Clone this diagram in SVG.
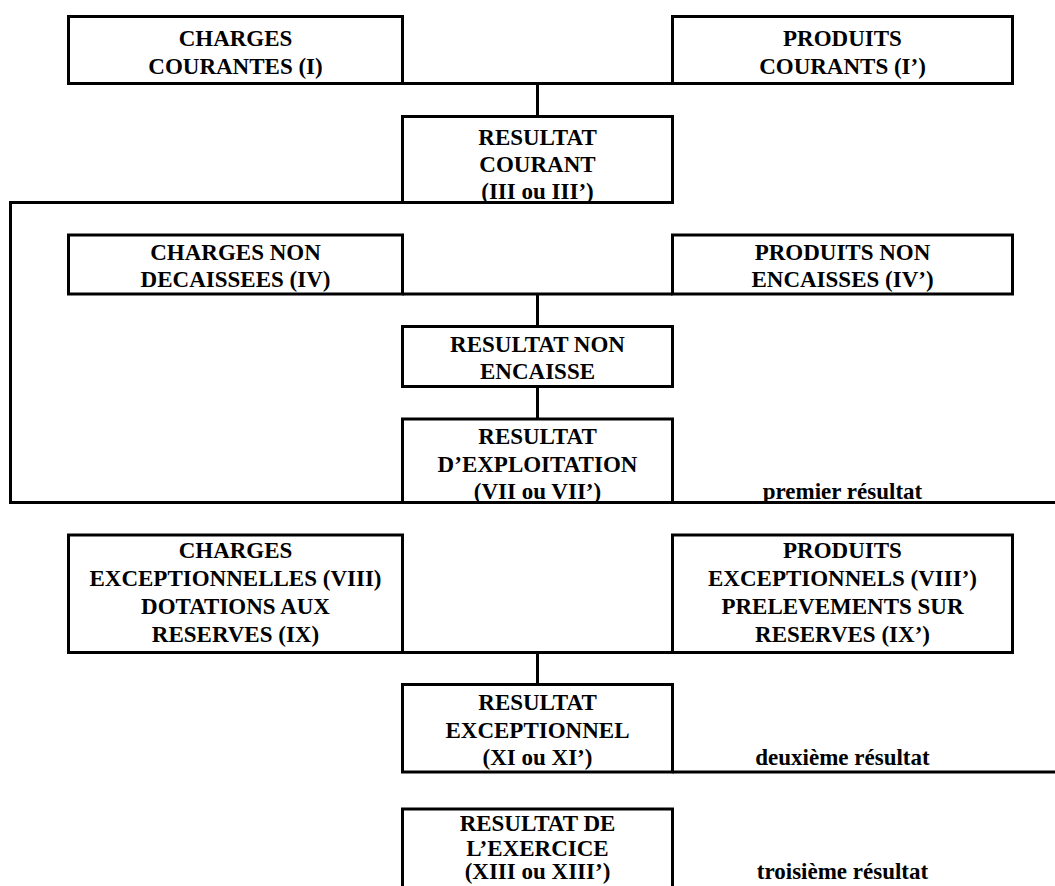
<svg xmlns="http://www.w3.org/2000/svg" width="1055" height="886" viewBox="0 0 1055 886">
<style>
.box{fill:none;stroke:#000;stroke-width:3}
.ln{fill:none;stroke:#000;stroke-width:3}
text{font-family:"Liberation Serif","Times New Roman",serif;font-weight:bold;font-size:23px;fill:#000;text-anchor:middle}
</style>
<rect width="1055" height="886" fill="#fff"/>
<g id="connectors">
<path class="ln" d="M402.5,83.5 H672.5"/>
<path class="ln" d="M537.5,83.5 V116.5"/>
<path class="ln" d="M402.5,202.5 H10.5 V502.5 H1055"/>
<path class="ln" d="M402.5,294 H672.5"/>
<path class="ln" d="M537.5,294 V326.5"/>
<path class="ln" d="M537.5,386.5 V419"/>
<path class="ln" d="M402.5,652.5 H672.5"/>
<path class="ln" d="M537.5,652.5 V684.5"/>
<path class="ln" d="M672.5,772 H1055"/>
</g>
<g id="charges-courantes">
<rect class="box" x="68.5" y="16.5" width="334" height="67"/>
<text x="235.5" y="46">CHARGES</text>
<text x="235.5" y="74">COURANTES (I)</text>
</g>
<g id="produits-courants">
<rect class="box" x="672.5" y="16.5" width="340" height="67"/>
<text x="842.5" y="46">PRODUITS</text>
<text x="842.5" y="74">COURANTS (I’)</text>
</g>
<g id="resultat-courant">
<rect class="box" x="402.5" y="116.5" width="270" height="86"/>
<text x="537.5" y="145">RESULTAT</text>
<text x="537.5" y="172">COURANT</text>
<text x="537.5" y="199">(III ou III’)</text>
</g>
<g id="charges-non-decaissees">
<rect class="box" x="68.5" y="235" width="334" height="59"/>
<text x="235.5" y="260">CHARGES NON</text>
<text x="235.5" y="287">DECAISSEES (IV)</text>
</g>
<g id="produits-non-encaisses">
<rect class="box" x="672.5" y="235" width="340" height="59"/>
<text x="842.5" y="260">PRODUITS NON</text>
<text x="842.5" y="287">ENCAISSES (IV’)</text>
</g>
<g id="resultat-non-encaisse">
<rect class="box" x="402.5" y="326.5" width="270" height="60"/>
<text x="537.5" y="351.5">RESULTAT NON</text>
<text x="537.5" y="379">ENCAISSE</text>
</g>
<g id="resultat-exploitation">
<rect class="box" x="402.5" y="419" width="270" height="83.5"/>
<text x="537.5" y="444">RESULTAT</text>
<text x="537.5" y="471.5">D’EXPLOITATION</text>
<text x="537.5" y="499">(VII ou VII’)</text>
</g>
<g id="label-premier">
<text x="842.5" y="499">premier résultat</text>
</g>
<g id="charges-exceptionnelles">
<rect class="box" x="68.5" y="535" width="334" height="117.5"/>
<text x="235.5" y="558">CHARGES</text>
<text x="235.5" y="586">EXCEPTIONNELLES (VIII)</text>
<text x="235.5" y="614">DOTATIONS AUX</text>
<text x="235.5" y="641.5">RESERVES (IX)</text>
</g>
<g id="produits-exceptionnels">
<rect class="box" x="672.5" y="535" width="340" height="117.5"/>
<text x="842.5" y="558">PRODUITS</text>
<text x="842.5" y="586">EXCEPTIONNELS (VIII’)</text>
<text x="842.5" y="614">PRELEVEMENTS SUR</text>
<text x="842.5" y="641.5">RESERVES (IX’)</text>
</g>
<g id="resultat-exceptionnel">
<rect class="box" x="402.5" y="684.5" width="270" height="87.5"/>
<text x="537.5" y="710">RESULTAT</text>
<text x="537.5" y="737.5">EXCEPTIONNEL</text>
<text x="537.5" y="765">(XI ou XI’)</text>
</g>
<g id="label-deuxieme">
<text x="842.5" y="765">deuxième résultat</text>
</g>
<g id="resultat-exercice">
<path class="box" d="M402.5,890 V809 H672.5 V890"/>
<text x="537.5" y="831">RESULTAT DE</text>
<text x="537.5" y="856">L’EXERCICE</text>
<text x="537.5" y="879">(XIII ou XIII’)</text>
</g>
<g id="label-troisieme">
<text x="842.5" y="879">troisième résultat</text>
</g>
</svg>
